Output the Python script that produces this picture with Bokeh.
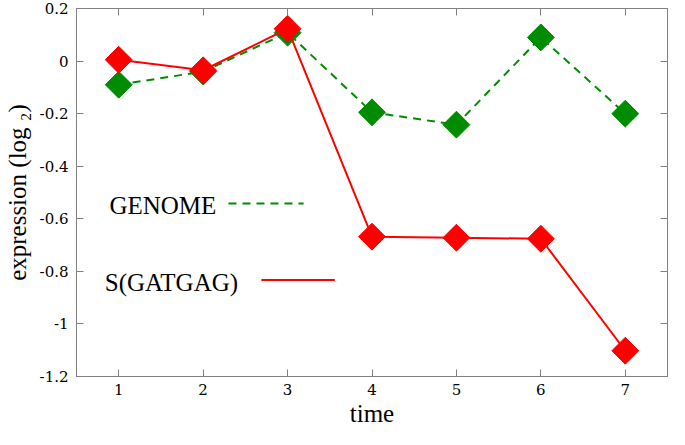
from bokeh.plotting import figure
from bokeh.models import Range1d, FixedTicker, LinearAxis, Label, CustomJSTickFormatter
from bokeh.embed import file_html
from bokeh.resources import INLINE

# ---- data ----
time = [1, 2, 3, 4, 5, 6, 7]
genome = [-0.09, -0.04, 0.108, -0.195, -0.242, 0.09, -0.20]
gatgag = [0.005, -0.035, 0.123, -0.668, -0.672, -0.676, -1.102]
series_names = ["GENOME", "S(GATGAG)"]

x_ticks = [1, 2, 3, 4, 5, 6, 7]
x_tick_labels = ["1", "2", "3", "4", "5", "6", "7"]
y_ticks = [0.2, 0.0, -0.2, -0.4, -0.6, -0.8, -1.0, -1.2]
y_tick_labels = ["0.2", "0", "-0.2", "-0.4", "-0.6", "-0.8", "-1", "-1.2"]

# ---- style / layout ----
FONT = "Liberation Serif"
TICK_FONT = "DejaVu Serif"
GREEN = "#008c00"
RED = "#ff0000"
AXIS = "#808080"

p = figure(width=669, height=429, output_backend="svg", toolbar_location=None,
           x_range=Range1d(0.5, 7.5), y_range=Range1d(-1.2, 0.2),
           min_border_left=69, min_border_right=2, min_border_top=8,
           min_border_bottom=50)
p.grid.visible = False
p.outline_line_color = AXIS
p.background_fill_color = "white"
p.border_fill_color = "white"

label_code = """
let best = 0;
for (let i = 0; i < tvals.length; i++) {
  if (Math.abs(tvals[i] - tick) < Math.abs(tvals[best] - tick)) best = i;
}
return tlabels[best];
"""

xax = p.below[0]
yax = p.left[0]
xax.ticker = FixedTicker(ticks=x_ticks)
xax.formatter = CustomJSTickFormatter(
    args=dict(tvals=x_ticks, tlabels=x_tick_labels), code=label_code)
yax.ticker = FixedTicker(ticks=y_ticks)
yax.formatter = CustomJSTickFormatter(
    args=dict(tvals=y_ticks, tlabels=y_tick_labels), code=label_code)

for ax in (xax, yax):
    ax.axis_line_color = AXIS
    ax.major_tick_line_color = AXIS
    ax.minor_tick_line_color = None
    ax.major_tick_in = 7
    ax.major_tick_out = 0
    ax.major_label_text_font = TICK_FONT
    ax.major_label_text_font_size = "15px"
    ax.major_label_text_color = "black"
    ax.axis_label_text_font = FONT
    ax.axis_label_text_font_size = "25px"
    ax.axis_label_text_font_style = "normal"
    ax.axis_label_text_color = "black"

xax.axis_label = "time"
xax.major_label_standoff = 7
xax.axis_label_standoff = 2
yax.axis_label = "expression (log \u2082)"
yax.major_label_standoff = 8
yax.axis_label_standoff = 6

for loc, ticks in (("above", x_ticks), ("right", y_ticks)):
    ax = LinearAxis(ticker=FixedTicker(ticks=ticks),
                    formatter=CustomJSTickFormatter(code='return "";'),
                    major_label_text_font_size="0px", major_label_standoff=0,
                    major_tick_in=7, major_tick_out=0,
                    minor_tick_line_color=None,
                    axis_line_color=AXIS, major_tick_line_color=AXIS)
    p.add_layout(ax, loc)

# ---- series ----
p.line(time, genome, line_color=GREEN, line_width=2, line_dash="8 6")
p.scatter(time, genome, marker="square", angle=0.785398, size=19,
          fill_color=GREEN, line_color=GREEN)
p.line(time, gatgag, line_color=RED, line_width=2)
p.scatter(time, gatgag, marker="square", angle=0.785398, size=19,
          fill_color=RED, line_color=RED)

# ---- legend (text then key line, gnuplot style) ----
legend_text_x = [0.89, 0.835]
legend_text_y = [-0.548, -0.841]
legend_key_x = [[2.30, 3.19], [2.69, 3.56]]
legend_key_y = [-0.542, -0.833]
legend_colors = [GREEN, RED]
legend_dash = ["8 6", "solid"]

for name, tx, ty, kx, ky, c, d in zip(series_names, legend_text_x, legend_text_y,
                                      legend_key_x, legend_key_y, legend_colors,
                                      legend_dash):
    p.add_layout(Label(x=tx, y=ty, text=name, text_font=FONT,
                       text_font_size="25px", text_baseline="middle",
                       text_align="left", text_color="black"))
    p.line(kx, [ky, ky], line_color=c, line_width=2, line_dash=d)

open("out.html", "w").write(file_html(p, INLINE))
